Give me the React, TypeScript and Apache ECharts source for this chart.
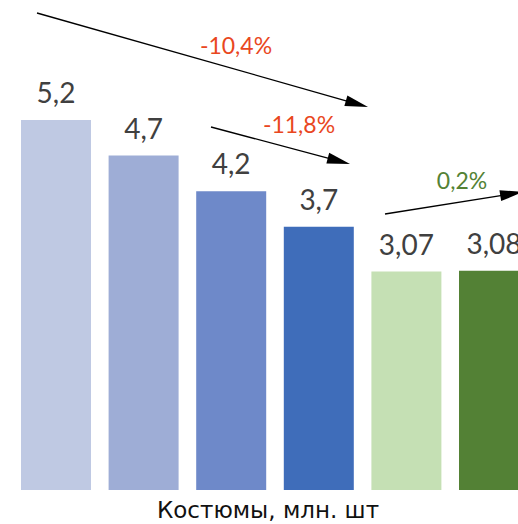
import React, { useEffect, useRef } from "react";
import * as echarts from "echarts";

const categories = ["1", "2", "3", "4", "5", "6"];
const values = [5.2, 4.7, 4.2, 3.7, 3.07, 3.08];
const valueLabels = ["5,2", "4,7", "4,2", "3,7", "3,07", "3,08"];
const barColors = ["#BFC9E3", "#9EADD6", "#6E89C9", "#3F6DBA", "#C5E0B4", "#538135"];
const changeLabels = ["-10,4%", "-11,8%", "0,2%"];
const changeColors = ["#E9471E", "#E9471E", "#548235"];
const axisTitle = "Костюмы, млн. шт";

// annotation geometry (pixels)
const arrows = [
  { from: [37, 13], to: [368, 107], label: [236, 45] },
  { from: [211, 127], to: [350, 164], label: [299, 124] },
  { from: [385, 214], to: [523, 192], label: [462, 180] },
];

function arrowGraphics(i: number) {
  const a = arrows[i];
  const [x1, y1] = a.from;
  const [x2, y2] = a.to;
  const dx = x2 - x1;
  const dy = y2 - y1;
  const len = Math.sqrt(dx * dx + dy * dy);
  const ux = dx / len;
  const uy = dy / len;
  const headLen = 23;
  const headHalf = 5.5;
  const bx = x2 - ux * headLen;
  const by = y2 - uy * headLen;
  const px = -uy;
  const py = ux;
  return [
    {
      type: "line",
      shape: { x1, y1, x2: bx + ux * 2, y2: by + uy * 2 },
      style: { stroke: "#000", lineWidth: 1.3 },
    },
    {
      type: "polygon",
      shape: {
        points: [
          [x2, y2],
          [bx + px * headHalf, by + py * headHalf],
          [bx - px * headHalf, by - py * headHalf],
        ],
      },
      style: { fill: "#000" },
    },
    {
      type: "text",
      x: a.label[0],
      y: a.label[1],
      style: {
        text: changeLabels[i],
        fill: changeColors[i],
        font: "23px Lato",
        align: "center",
        verticalAlign: "middle",
      },
    },
  ];
}

export default function App() {
  const ref = useRef<HTMLDivElement>(null);
  useEffect(() => {
    if (!ref.current) return;
    const chart = echarts.init(ref.current, undefined, { renderer: "svg" });
    const graphics: any[] = [];
    for (let i = 0; i < arrows.length; i++) graphics.push(...arrowGraphics(i));
    graphics.push({
      type: "text",
      x: 268,
      y: 510,
      style: {
        text: axisTitle,
        fill: "#111",
        font: "23px 'DejaVu Sans'",
        align: "center",
        verticalAlign: "middle",
      },
    });
    chart.setOption({
      animation: false,
      grid: {
        left: 12.2,
        width: 525.6,
        top: 27.5,
        bottom: 34,
        outerBoundsMode: "none",
        containLabel: false,
      },
      xAxis: {
        type: "category",
        data: categories,
        axisLine: { show: false },
        axisTick: { show: false },
        axisLabel: { show: false },
      },
      yAxis: {
        type: "value",
        min: 0,
        max: 6.5,
        show: false,
        splitLine: { show: false },
      },
      series: [
        {
          type: "bar",
          barWidth: 70,
          data: values.map((v, i) => ({ value: v, itemStyle: { color: barColors[i] } })),
          label: {
            show: true,
            position: "top",
            distance: 14,
            fontFamily: "Lato",
            fontSize: 28,
            color: "#404040",
            formatter: (p: any) => valueLabels[p.dataIndex],
          },
        },
      ],
      graphic: graphics,
    });
    return () => chart.dispose();
  }, []);
  return (
    <div
      ref={ref}
      style={{ position: "absolute", left: 0, top: 0, width: 518, height: 524 }}
    />
  );
}
